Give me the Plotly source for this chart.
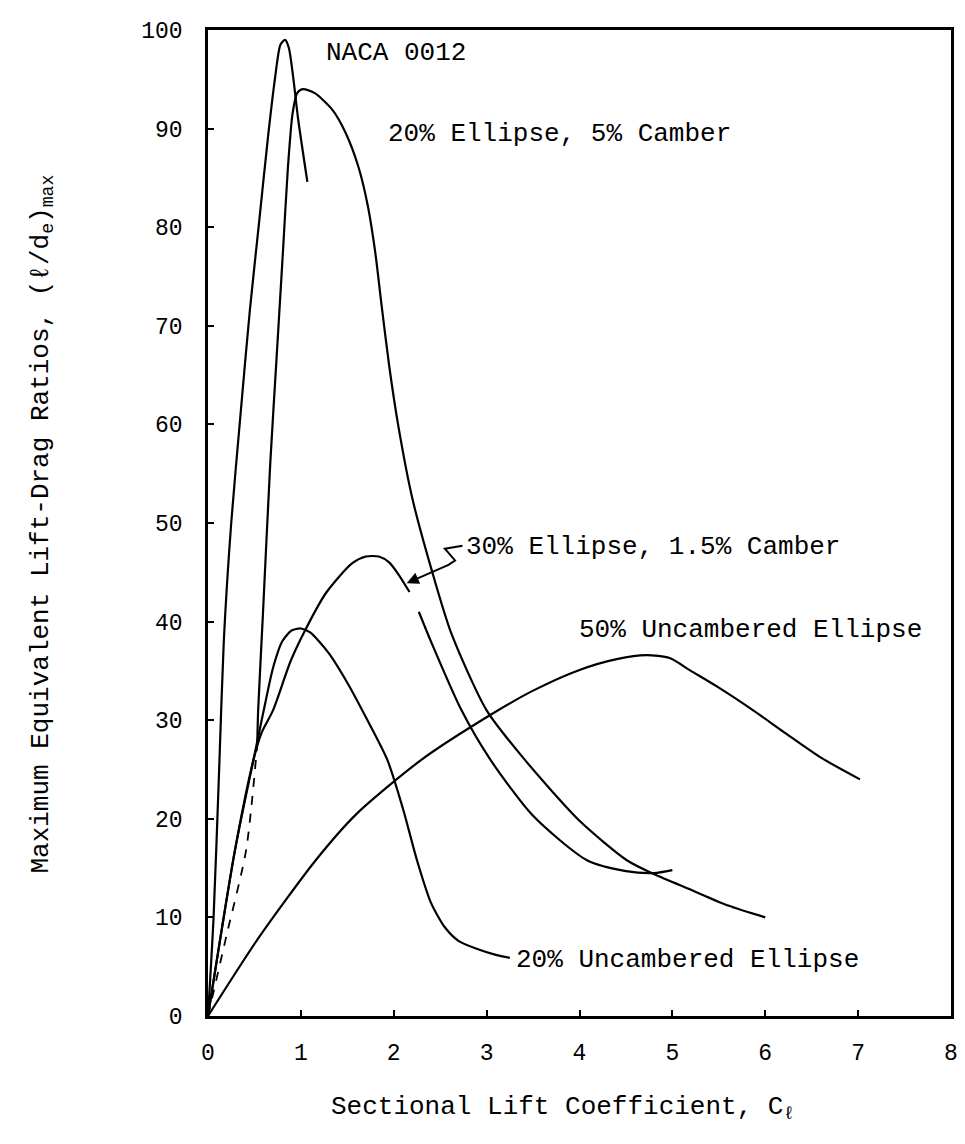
import plotly.graph_objects as go

# ---- data ----
naca_x = [0.0, 0.06, 0.12, 0.17, 0.25, 0.35, 0.45, 0.55, 0.65, 0.72, 0.78, 0.83, 0.87, 0.92, 0.97, 1.07]
naca_y = [0.0, 10.0, 25.0, 38.0, 50.0, 61.0, 71.5, 80.5, 89.5, 95.0, 98.5, 99.0, 98.2, 95.0, 91.0, 84.6]

camb5_dash_x = [0.0, 0.2, 0.41, 0.53]
camb5_dash_y = [0.0, 8.2, 16.8, 27.5]
camb5_x = [0.53, 0.54, 0.59, 0.67, 0.74, 0.81, 0.86, 0.91, 0.96, 1.02, 1.15, 1.34, 1.48, 1.62, 1.72, 1.80, 1.87, 1.95, 2.05, 2.20, 2.40, 2.62, 3.0, 3.41, 4.0, 4.51, 4.8, 5.2, 5.6, 6.0]
camb5_y = [27.5, 31.0, 40.5, 56.0, 67.0, 78.0, 86.0, 91.5, 93.6, 94.0, 93.6, 91.9, 89.6, 86.1, 82.2, 77.5, 72.0, 66.0, 59.8, 52.5, 45.5, 38.8, 31.0, 26.0, 19.8, 15.8, 14.4, 12.8, 11.2, 10.0]

e30_x = [0.0, 0.29, 0.49, 0.58, 0.70, 0.89, 1.05, 1.27, 1.55, 1.70, 1.84, 1.95, 2.05, 2.17, None, 2.27, 2.40, 2.73, 3.04, 3.5, 4.08, 4.5, 4.8, 5.0]
e30_y = [0.0, 16.8, 26.0, 28.8, 31.0, 36.0, 39.2, 42.9, 45.9, 46.6, 46.6, 46.0, 44.8, 43.0, None, 41.0, 38.0, 31.0, 26.0, 20.3, 15.8, 14.7, 14.5, 14.8]

e20_x = [0.0, 0.29, 0.49, 0.60, 0.70, 0.80, 0.90, 1.0, 1.1, 1.3, 1.5, 1.7, 1.93, 2.1, 2.25, 2.40, 2.55, 2.70, 2.90, 3.10, 3.25]
e20_y = [0.0, 16.8, 26.0, 31.0, 35.3, 38.0, 39.1, 39.3, 38.9, 36.8, 33.8, 30.3, 26.0, 21.0, 15.8, 11.5, 9.0, 7.6, 6.8, 6.2, 5.9]

e50_x = [0.0, 0.55, 1.16, 1.6, 2.3, 3.07, 3.5, 4.0, 4.4, 4.72, 4.97, 5.2, 5.5, 5.87, 6.2, 6.6, 7.02]
e50_y = [0.0, 8.0, 15.8, 20.5, 26.0, 30.7, 33.0, 35.1, 36.2, 36.6, 36.3, 35.0, 33.3, 31.0, 28.8, 26.2, 24.0]

x_ticks = [0, 1, 2, 3, 4, 5, 6, 7, 8]
y_ticks = [0, 10, 20, 30, 40, 50, 60, 70, 80, 90, 100]

FONT = "Liberation Mono, Courier New, monospace"
LW = 2.2

fig = go.Figure()

def add(x, y, dash="solid", width=LW):
    fig.add_trace(go.Scatter(x=x, y=y, mode="lines", connectgaps=False,
                             line=dict(color="black", width=width, dash=dash,
                                       shape="spline", smoothing=0.7),
                             showlegend=False, hoverinfo="skip"))

add(naca_x, naca_y)
add(camb5_dash_x, camb5_dash_y, dash="dash", width=1.8)
add(camb5_x, camb5_y)
add(e30_x, e30_y)
add(e20_x, e20_y)
add(e50_x, e50_y)

lab_font = dict(family=FONT, size=26, color="black")

def label(text, x, y):
    fig.add_annotation(x=x, y=y, xref="x", yref="y", text=text, showarrow=False,
                       xanchor="left", yanchor="middle", font=lab_font)

label("NACA 0012", 1.25, 97.7)
label("20% Ellipse, 5% Camber", 1.92, 89.5)
label("30% Ellipse, 1.5% Camber", 2.76, 47.6)
label("50% Uncambered Ellipse", 3.97, 39.1)
label("20% Uncambered Ellipse", 3.3, 5.7)

# squiggle leader + arrow for the 30% label
fig.add_shape(type="path", xref="x", yref="y",
              path="M 2.74 47.7 L 2.55 47.4 L 2.66 46.2 L 2.58 45.7",
              line=dict(color="black", width=2))
fig.add_annotation(x=2.14, y=43.9, ax=2.60, ay=45.8, xref="x", yref="y",
                   axref="x", ayref="y", text="", showarrow=True,
                   arrowhead=2, arrowsize=1.2, arrowwidth=2, arrowcolor="black")

# axis titles
fig.add_annotation(x=0.477, y=-0.093, xref="paper", yref="paper",
                   text="Sectional Lift Coefficient, C<sub>ℓ</sub>", showarrow=False,
                   xanchor="center", yanchor="middle", font=lab_font)
fig.add_annotation(x=-0.224, y=0.499, xref="paper", yref="paper", textangle=-90,
                   text="Maximum Equivalent Lift-Drag Ratios, (ℓ/d<sub>e</sub>)<sub>max</sub>",
                   showarrow=False, xanchor="center", yanchor="middle", font=lab_font)

axis_common = dict(showgrid=False, zeroline=False, showline=True, mirror=True,
                   linecolor="black", linewidth=2.5, ticks="inside", ticklen=6,
                   tickwidth=1.5, tickcolor="black",
                   tickfont=dict(family=FONT, size=23, color="black"))

fig.update_layout(
    width=965, height=1144,
    margin=dict(l=208, r=7, t=30, b=128),
    paper_bgcolor="white", plot_bgcolor="white",
    xaxis=dict(range=[0, 8], tickvals=x_ticks, ticklabelstandoff=14, **axis_common),
    yaxis=dict(range=[0, 100], tickvals=y_ticks, ticklabelstandoff=18, **axis_common),
)

fig.write_html("out.html")
